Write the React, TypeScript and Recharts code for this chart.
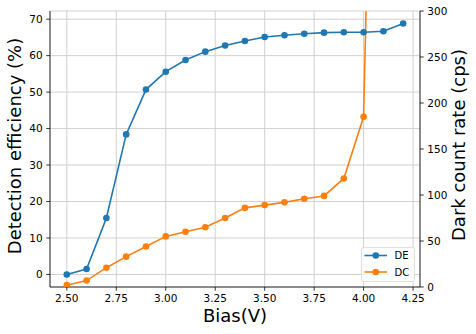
import React from 'react';
import { LineChart, Line, XAxis, YAxis, CartesianGrid, Legend } from 'recharts';

const bias = [2.5, 2.6, 2.7, 2.8, 2.9, 3.0, 3.1, 3.2, 3.3, 3.4, 3.5, 3.6, 3.7, 3.8, 3.9, 4.0, 4.1, 4.2];
const deValues = [0, 1.5, 15.5, 38.4, 50.7, 55.6, 58.8, 61.1, 62.8, 64.0, 65.1, 65.6, 66.0, 66.3, 66.4, 66.4, 66.7, 68.8];
const dcValues = [2, 7, 21, 33, 44, 55, 60, 65, 75, 86, 89, 92, 96, 99, 118, 185, 1130, 1800];

const xTicks = [2.5, 2.75, 3.0, 3.25, 3.5, 3.75, 4.0, 4.25];
const leftTicks = [0, 10, 20, 30, 40, 50, 60, 70];
const rightTicks = [0, 50, 100, 150, 200, 250, 300];

const BLUE = '#1f77b4';
const ORANGE = '#ff7f0e';
const FONT = 'DejaVu Sans, sans-serif';

const data = bias.map((b, i) => ({ bias: b, de: deValues[i], dc: dcValues[i] }));

const tickStyle = { fontSize: 10.5, fill: '#000', fontFamily: FONT };
const lineStyle = { stroke: '#000', strokeWidth: 0.8 };

const LegendBox = () => (
  <svg width={54} height={36} style={{ display: 'block' }}>
    <rect x={0.5} y={0.5} width={53} height={34} rx={2} ry={2} fill="#fff" fillOpacity={0.8} stroke="#d9d9d9" strokeWidth={0.8} />
    <line x1={3.5} x2={26} y1={8.5} y2={8.5} stroke={BLUE} strokeWidth={1.6} />
    <circle cx={14.8} cy={8.5} r={3.3} fill={BLUE} />
    <text x={33.5} y={12} fontSize={10} fontFamily={FONT} fill="#000">DE</text>
    <line x1={3.5} x2={26} y1={25} y2={25} stroke={ORANGE} strokeWidth={1.6} />
    <circle cx={14.8} cy={25} r={3.3} fill={ORANGE} />
    <text x={33.5} y={28.5} fontSize={10} fontFamily={FONT} fill="#000">DC</text>
  </svg>
);

export default function App() {
  return (
    <div style={{ position: 'absolute', left: 0, top: 0, width: 476, height: 334, background: '#fff' }}>
      <LineChart width={476} height={334} data={data} margin={{ top: 11, right: 0, bottom: 0, left: 0 }}>
        <CartesianGrid yAxisId="left" stroke="#cccccc" strokeWidth={0.9} />
        <XAxis
          dataKey="bias"
          type="number"
          domain={[2.415, 4.285]}
          ticks={xTicks}
          interval={0}
          tickFormatter={(v: number) => v.toFixed(2)}
          height={47}
          tickSize={3.7}
          tickMargin={4.3}
          tick={tickStyle}
          axisLine={lineStyle}
          tickLine={lineStyle}
          label={{
            content: () => (
              <text x={235} y={322} textAnchor="middle" fontSize={18} fontFamily={FONT} fill="#000">Bias(V)</text>
            ),
          }}
        />
        <XAxis
          xAxisId="top"
          orientation="top"
          dataKey="bias"
          type="number"
          domain={[2.415, 4.285]}
          height={0}
          tick={false}
          tickLine={false}
          axisLine={lineStyle}
        />
        <YAxis
          yAxisId="left"
          type="number"
          domain={[-3.44, 72.24]}
          ticks={leftTicks}
          interval={0}
          width={50}
          tickSize={3.7}
          tickMargin={3.6}
          tick={tickStyle}
          axisLine={lineStyle}
          tickLine={lineStyle}
          allowDataOverflow
          label={{
            content: () => (
              <text x={21} y={146} transform="rotate(-90 21 146)" textAnchor="middle" fontSize={18} fontFamily={FONT} fill="#000">Detection efficiency (%)</text>
            ),
          }}
        />
        <YAxis
          yAxisId="right"
          orientation="right"
          type="number"
          domain={[0, 300]}
          ticks={rightTicks}
          interval={0}
          width={56}
          tickSize={3.7}
          tickMargin={3.6}
          tick={tickStyle}
          axisLine={lineStyle}
          tickLine={lineStyle}
          allowDataOverflow
          label={{
            content: () => (
              <text x={464.5} y={145} transform="rotate(-90 464.5 145)" textAnchor="middle" fontSize={18} fontFamily={FONT} fill="#000">Dark count rate (cps)</text>
            ),
          }}
        />
        <Line
          yAxisId="left"
          dataKey="de"
          name="DE"
          stroke={BLUE}
          strokeWidth={1.6}
          dot={{ r: 3.3, fill: BLUE, stroke: BLUE, strokeWidth: 0 }}
          activeDot={false}
          isAnimationActive={false}
        />
        <Line
          yAxisId="right"
          dataKey="dc"
          name="DC"
          stroke={ORANGE}
          strokeWidth={1.6}
          dot={{ r: 3.3, fill: ORANGE, stroke: ORANGE, strokeWidth: 0 }}
          activeDot={false}
          isAnimationActive={false}
        />
        <Legend
          layout="vertical"
          align="center"
          verticalAlign="middle"
          content={() => <LegendBox />}
          wrapperStyle={{ position: 'absolute', left: 361, top: 247, width: 54, height: 36 }}
        />
      </LineChart>
    </div>
  );
}
